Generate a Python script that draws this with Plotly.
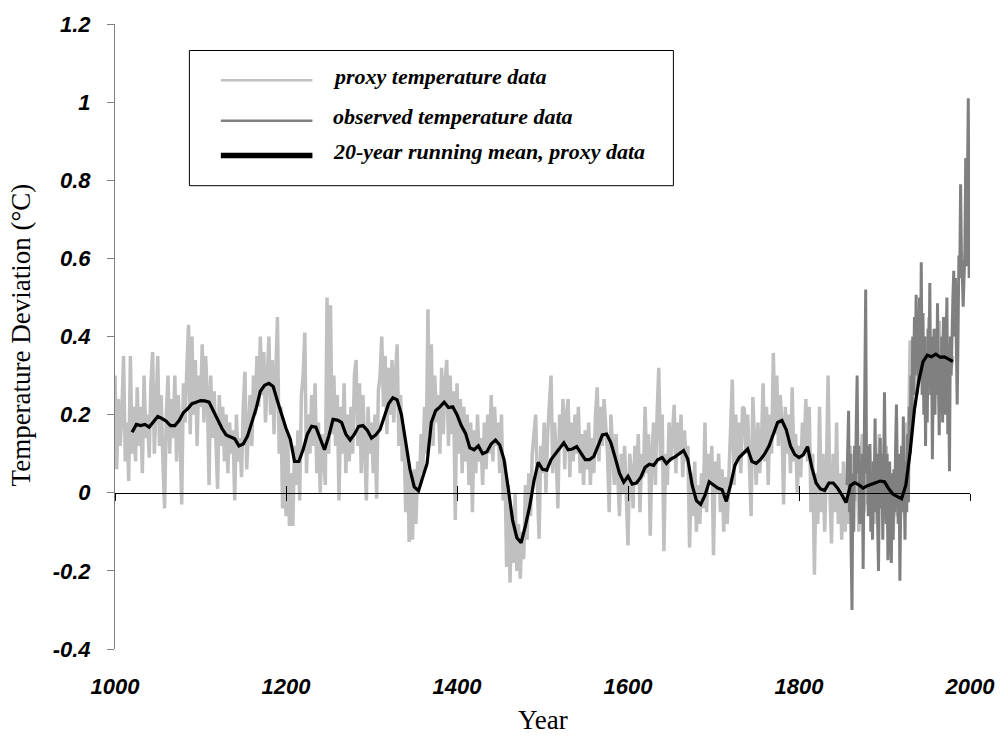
import plotly.graph_objects as go

# ---- data -------------------------------------------------------------
proxy_years = list(range(1000, 1981, 2))
proxy_temp = [
    0.30, 0.06, 0.24, 0.12, 0.20,    # 1000s
    0.35, 0.08, 0.18, 0.03, 0.35,    # 1010s
    0.10, 0.22, 0.08, 0.27, 0.12,
    0.22, 0.05, 0.30, 0.14, 0.20,
    0.09, 0.28, 0.36, 0.10, 0.22,
    0.35, 0.12, 0.25, 0.08, -0.04,
    0.20, 0.30, 0.10, 0.24, 0.14,
    0.30, 0.08, 0.25, 0.15, -0.03,
    0.28, 0.18, 0.32, 0.43, 0.15,
    0.40, 0.20, 0.34, 0.12, 0.30,
    0.22, 0.38, 0.18, 0.35, 0.25,    # 1100s
    0.02, 0.30, 0.14, 0.26, 0.10,
    0.01, 0.25, 0.12, 0.22, 0.08,
    0.20, 0.05, 0.18, 0.10, 0.16,
    -0.02, 0.20, 0.08, 0.14, 0.04,
    0.22, 0.31, 0.06, 0.18, 0.25,
    0.12, 0.30, 0.20, 0.35, 0.22,
    0.40, 0.25, 0.36, 0.18, 0.32,
    0.40, 0.20, 0.34, 0.15, 0.30,
    0.45, 0.10, 0.22, -0.04, 0.18,
    -0.06, 0.15, -0.085, 0.05, -0.085,  # 1200s
    0.12, 0.02, 0.16, -0.02, 0.25,
    0.30, 0.41, 0.05, 0.20, 0.10,
    0.25, 0.12, 0.28, 0.05, 0.18,
    0.00, 0.15, 0.08, 0.02, 0.50,
    0.10, 0.48, 0.15, 0.30, 0.12,
    0.25, -0.02, 0.22, 0.10, 0.28,
    0.05, 0.20, 0.08, 0.22, 0.10,
    0.30, 0.34, 0.12, 0.28, 0.05,
    0.25, 0.12, -0.02, 0.22, 0.10,
    0.18, 0.05, 0.20, -0.015, 0.26,  # 1300s
    0.30, 0.40, 0.22, 0.35, 0.15,
    0.32, 0.20, 0.34, 0.18, 0.30,
    0.38, 0.12, 0.25, 0.08, 0.15,
    -0.05, 0.10, -0.126, 0.05, -0.12,
    0.06, -0.08, 0.08, 0.02, 0.15,
    0.05, 0.22, 0.10, 0.47, 0.15,
    0.38, 0.12, 0.30, 0.18, 0.25,
    0.10, 0.32, 0.15, 0.28, 0.34,
    0.12, 0.30, 0.15, 0.26, -0.07,
    0.28, 0.10, 0.24, 0.05, 0.22,    # 1400s
    0.08, 0.20, 0.02, 0.18, -0.05,
    0.16, 0.05, 0.20, 0.08, 0.14,
    0.02, 0.18, 0.06, 0.20, 0.10,
    0.25, 0.08, 0.22, 0.12, 0.18,
    0.05, 0.20, -0.02, 0.08, -0.19,
    0.02, -0.23, -0.05, -0.18, 0.00,
    -0.20, -0.08, -0.22, -0.10, -0.17,
    0.02, -0.12, 0.05, -0.06, 0.10,
    0.15, 0.20, 0.02, -0.118, 0.12,
    0.05, 0.18, 0.00, 0.15, 0.22,    # 1500s
    0.30, 0.05, 0.18, 0.10, -0.04,
    0.20, 0.12, 0.24, 0.06, 0.20,
    0.24, 0.04, 0.18, 0.08, 0.20,
    0.10, 0.22, 0.05, 0.15, 0.02,
    0.16, 0.06, 0.18, 0.02, 0.14,
    0.05, 0.20, 0.27, 0.08, 0.22,
    0.12, 0.24, 0.18, 0.10, -0.05,
    0.20, 0.12, 0.02, 0.15, 0.05,
    -0.06, 0.10, 0.00, 0.12, -0.05,
    -0.135, 0.10, 0.05, -0.04, 0.12,  # 1600s
    0.02, 0.15, -0.05, 0.10, 0.04,
    0.22, 0.05, 0.15, -0.11, 0.10,
    0.18, 0.02, 0.20, 0.32, 0.08,
    0.20, -0.15, 0.10, 0.02, 0.18,
    0.08, 0.15, 0.225, 0.05, 0.18,
    0.10, 0.20, 0.04, 0.16, 0.08,
    0.12, -0.14, 0.05, -0.06, 0.08,
    -0.10, 0.02, -0.08, 0.05, -0.04,
    0.18, -0.05, 0.10, 0.02, 0.12,
    -0.16, 0.08, 0.00, 0.10, -0.05,  # 1700s
    0.06, -0.10, 0.04, -0.08, 0.05,
    0.15, 0.29, 0.02, 0.20, 0.08,
    0.18, 0.05, 0.22, 0.215, 0.10,
    0.20, 0.05, -0.06, 0.245, 0.10,
    0.02, 0.18, 0.05, 0.12, 0.28,
    0.08, 0.22, 0.02, 0.20, 0.10,
    0.358, 0.15, 0.30, 0.12, 0.25,
    0.18, -0.03, 0.22, 0.10, 0.20,
    0.05, 0.27, 0.08, 0.15, 0.00,
    0.12, 0.04, 0.18, 0.10, 0.24,    # 1800s
    0.08, 0.22, -0.05, 0.10, -0.21,
    0.05, -0.08, 0.22, -0.05, 0.10,
    -0.10, 0.05, 0.30, 0.02, -0.13,
    0.10, -0.05, 0.18, -0.08, 0.05,
    -0.12, 0.08, -0.10, 0.02, -0.08,
    0.12, -0.05, 0.10, -0.02, 0.08,
    -0.10, 0.06, 0.15, -0.05, 0.10,
    -0.03, 0.12, 0.00, 0.08, -0.08,
    0.06, -0.04, 0.15, 0.02, 0.10,
    -0.05, 0.12, -0.10, 0.05, -0.08,  # 1900s
    -0.12, 0.03, -0.06, 0.08, -0.10,
    0.02, 0.10, 0.05, 0.18, 0.12,
    0.39, 0.20, 0.30, 0.38, 0.25,
    0.45, 0.30, 0.42, 0.28, 0.40,
    0.32, 0.45, 0.30, 0.38, 0.25,
    0.42, 0.30, 0.44, 0.28, 0.36,
    0.30, 0.40, 0.26, 0.38, 0.32,
    0.35,                            # 1980
]

observed_years = list(range(1856, 2000))
observed_temp = [
    0.02, 0.15, 0.21, -0.05,                                        # 1856-59
    0.10, -0.15, -0.30, 0.05, -0.10, 0.12, 0.02, 0.18, 0.30, 0.05,  # 1860s
    0.12, -0.08, 0.08, -0.05, 0.10, -0.195, 0.02, 0.15, 0.52, 0.05,
    0.12, -0.06, 0.08, 0.125, -0.10, 0.05, -0.12, 0.08, 0.02, 0.19,
    -0.05, 0.10, -0.08, -0.20, 0.05, 0.14, -0.04, 0.10, -0.12, 0.06,
    0.257, 0.05, -0.08, 0.10, -0.173, 0.02, 0.08, -0.10, -0.18, 0.05,  # 1900s
    -0.12, 0.06, -0.05, 0.12, 0.226, 0.04, -0.08, 0.10, -0.225, -0.02,
    0.12, -0.05, 0.195, 0.02, -0.12, 0.08, -0.05, 0.15, -0.024, 0.22,
    0.10, 0.30, 0.18, 0.40, 0.25, 0.45, 0.30, 0.507, 0.35, 0.42,
    0.28, 0.50, 0.32, 0.59, 0.25, 0.46, 0.20, 0.40, 0.12, 0.35,
    0.18, 0.42, 0.30, 0.537, 0.25, 0.40, 0.086, 0.30, 0.42, 0.20,
    0.38, 0.25, 0.485, 0.30, 0.147, 0.35, 0.22, 0.40, 0.18, 0.45,
    0.30, 0.20, 0.38, 0.50, 0.15, 0.30, 0.055, 0.40, 0.30, 0.45,
    0.50, 0.568, 0.40, 0.55, 0.35, 0.226, 0.40, 0.607, 0.55, 0.79,
    0.60, 0.56, 0.476, 0.55, 0.62, 0.857, 0.58, 0.80, 1.01, 0.55,
]

mean_years = list(range(1020, 1981, 5))
mean_temp = [
    0.155, 0.175, 0.172, 0.175, 0.168, 0.18, 0.195, 0.19, 0.183, 0.172,     # 1020-1065
    0.172, 0.185, 0.205, 0.215, 0.228, 0.232, 0.236, 0.235, 0.232, 0.21,    # 1070-1115
    0.185, 0.165, 0.148, 0.142, 0.138, 0.12, 0.125, 0.145, 0.18, 0.215,     # 1120-1165
    0.26, 0.275, 0.28, 0.272, 0.235, 0.2, 0.165, 0.137, 0.08, 0.08,         # 1170-1215
    0.11, 0.15, 0.17, 0.168, 0.14, 0.11, 0.145, 0.188, 0.186, 0.18,         # 1220-1265
    0.15, 0.135, 0.15, 0.17, 0.172, 0.16, 0.14, 0.148, 0.162, 0.195,        # 1270-1315
    0.228, 0.243, 0.238, 0.2, 0.13, 0.06, 0.015, 0.005, 0.04, 0.075,        # 1320-1365
    0.18, 0.21, 0.22, 0.232, 0.218, 0.22, 0.2, 0.172, 0.152, 0.115,         # 1370-1415
    0.11, 0.12, 0.1, 0.105, 0.125, 0.135, 0.122, 0.085, 0.01, -0.07,        # 1420-1465
    -0.115, -0.128, -0.085, -0.035, 0.03, 0.078, 0.06, 0.058, 0.085, 0.1,   # 1470-1515
    0.115, 0.128, 0.11, 0.112, 0.118, 0.103, 0.085, 0.085, 0.093, 0.12,     # 1520-1565
    0.148, 0.15, 0.128, 0.09, 0.05, 0.027, 0.042, 0.022, 0.025, 0.04,       # 1570-1615
    0.065, 0.073, 0.07, 0.085, 0.09, 0.075, 0.086, 0.092, 0.1, 0.108,       # 1620-1665
    0.086, 0.02, -0.02, -0.03, -0.007, 0.028, 0.02, 0.012, 0.008, -0.022,   # 1670-1715
    0.02, 0.07, 0.09, 0.1, 0.112, 0.08, 0.075, 0.085, 0.1, 0.12,            # 1720-1765
    0.15, 0.18, 0.185, 0.162, 0.12, 0.098, 0.09, 0.097, 0.118, 0.065,       # 1770-1815
    0.025, 0.01, 0.006, 0.025, 0.025, 0.012, -0.005, -0.025, 0.018, 0.026,  # 1820-1865
    0.02, 0.012, 0.018, 0.022, 0.026, 0.03, 0.028, 0.01, -0.004, -0.01,     # 1870-1915
    -0.015, 0.02, 0.105, 0.213, 0.285, 0.335, 0.352, 0.348, 0.355, 0.347,   # 1920-1965
    0.348, 0.342, 0.336,                                                    # 1970-1980
]

x_ticks = [1000, 1200, 1400, 1600, 1800, 2000]
y_ticks = [-0.4, -0.2, 0, 0.2, 0.4, 0.6, 0.8, 1.0, 1.2]
y_tick_text = ["-0.4", "-0.2", "0", "0.2", "0.4", "0.6", "0.8", "1", "1.2"]

series_names = [
    "proxy temperature data",
    "observed temperature data",
    "20-year running mean, proxy data",
]
series_colors = ["#c0c0c0", "#808080", "#000000"]

# ---- styles -----------------------------------------------------------
tick_font = dict(family="Liberation Sans, Arial, sans-serif", size=22,
                 color="black", weight="bold", style="italic")
title_font = dict(family="Liberation Serif, Times New Roman, serif",
                  size=27, color="black")
legend_font = dict(family="Liberation Serif, Times New Roman, serif",
                   size=22, color="black", weight="bold", style="italic")

fig = go.Figure()

fig.add_trace(go.Scatter(x=proxy_years, y=proxy_temp, mode="lines",
                         name=series_names[0],
                         line=dict(color=series_colors[0], width=3.5)))
fig.add_trace(go.Scatter(x=observed_years, y=observed_temp, mode="lines",
                         name=series_names[1],
                         line=dict(color=series_colors[1], width=3)))
fig.add_trace(go.Scatter(x=mean_years, y=mean_temp, mode="lines",
                         name=series_names[2],
                         line=dict(color=series_colors[2], width=3.2)))

# empty traces so the two axes drawn through y = 0 get a subplot
fig.add_trace(go.Scatter(x=[], y=[], xaxis="x2", yaxis="y", showlegend=False))
fig.add_trace(go.Scatter(x=[], y=[], xaxis="x3", yaxis="y", showlegend=False))

zero_axis = dict(overlaying="x", anchor="free", position=0.25,
                 range=[1000, 2000], tickvals=x_ticks, showticklabels=False,
                 showline=True, linecolor="black", linewidth=1,
                 ticklen=7, tickwidth=1, tickcolor="black",
                 showgrid=False, zeroline=False)

fig.update_layout(
    width=1007, height=740,
    margin=dict(l=115, r=30, t=20, b=91),
    paper_bgcolor="white", plot_bgcolor="white",
    showlegend=False,
    xaxis=dict(range=[1000, 2000], tickvals=x_ticks,
               ticktext=[str(v) for v in x_ticks],
               showline=False, ticks="", showgrid=False, zeroline=False,
               tickfont=tick_font, ticklabelstandoff=22),
    xaxis2=dict(zero_axis, ticks="outside"),
    xaxis3=dict(zero_axis, ticks="inside"),
    yaxis=dict(range=[-0.4, 1.2], tickvals=y_ticks, ticktext=y_tick_text,
               showline=True, linecolor="#808080", linewidth=1,
               ticks="outside", ticklen=7, tickwidth=1, tickcolor="#808080",
               showgrid=False, zeroline=False,
               tickfont=tick_font, ticklabelstandoff=12),
)

# axis titles
fig.add_annotation(text="Temperature Deviation (°C)", textangle=-90,
                   xref="paper", yref="paper", x=-0.1094, y=0.5024,
                   xanchor="center", yanchor="middle", showarrow=False,
                   font=title_font)
fig.add_annotation(text="Year", xref="paper", yref="paper", x=0.5, y=-0.1415,
                   xanchor="center", yanchor="bottom", showarrow=False,
                   font=title_font)

# boxed key
fig.add_shape(type="rect", xref="paper", yref="paper",
              x0=0.0870, x1=0.6531, y0=0.7413, y1=0.9576,
              line=dict(color="black", width=1), fillcolor="white")
key_rows = [0.9099, 0.8453, 0.7897]
key_widths = [2.5, 2.5, 5.5]
for name, color, row, lw in zip(series_names, series_colors, key_rows, key_widths):
    fig.add_shape(type="line", xref="paper", yref="paper",
                  x0=0.1238, x1=0.2309, y0=row, y1=row,
                  line=dict(color=color, width=lw))
    fig.add_annotation(text=name, xref="paper", yref="paper",
                       x=0.2529, y=row + 0.0063, xanchor="left",
                       yanchor="middle", showarrow=False, font=legend_font)

fig.write_html("out.html")
